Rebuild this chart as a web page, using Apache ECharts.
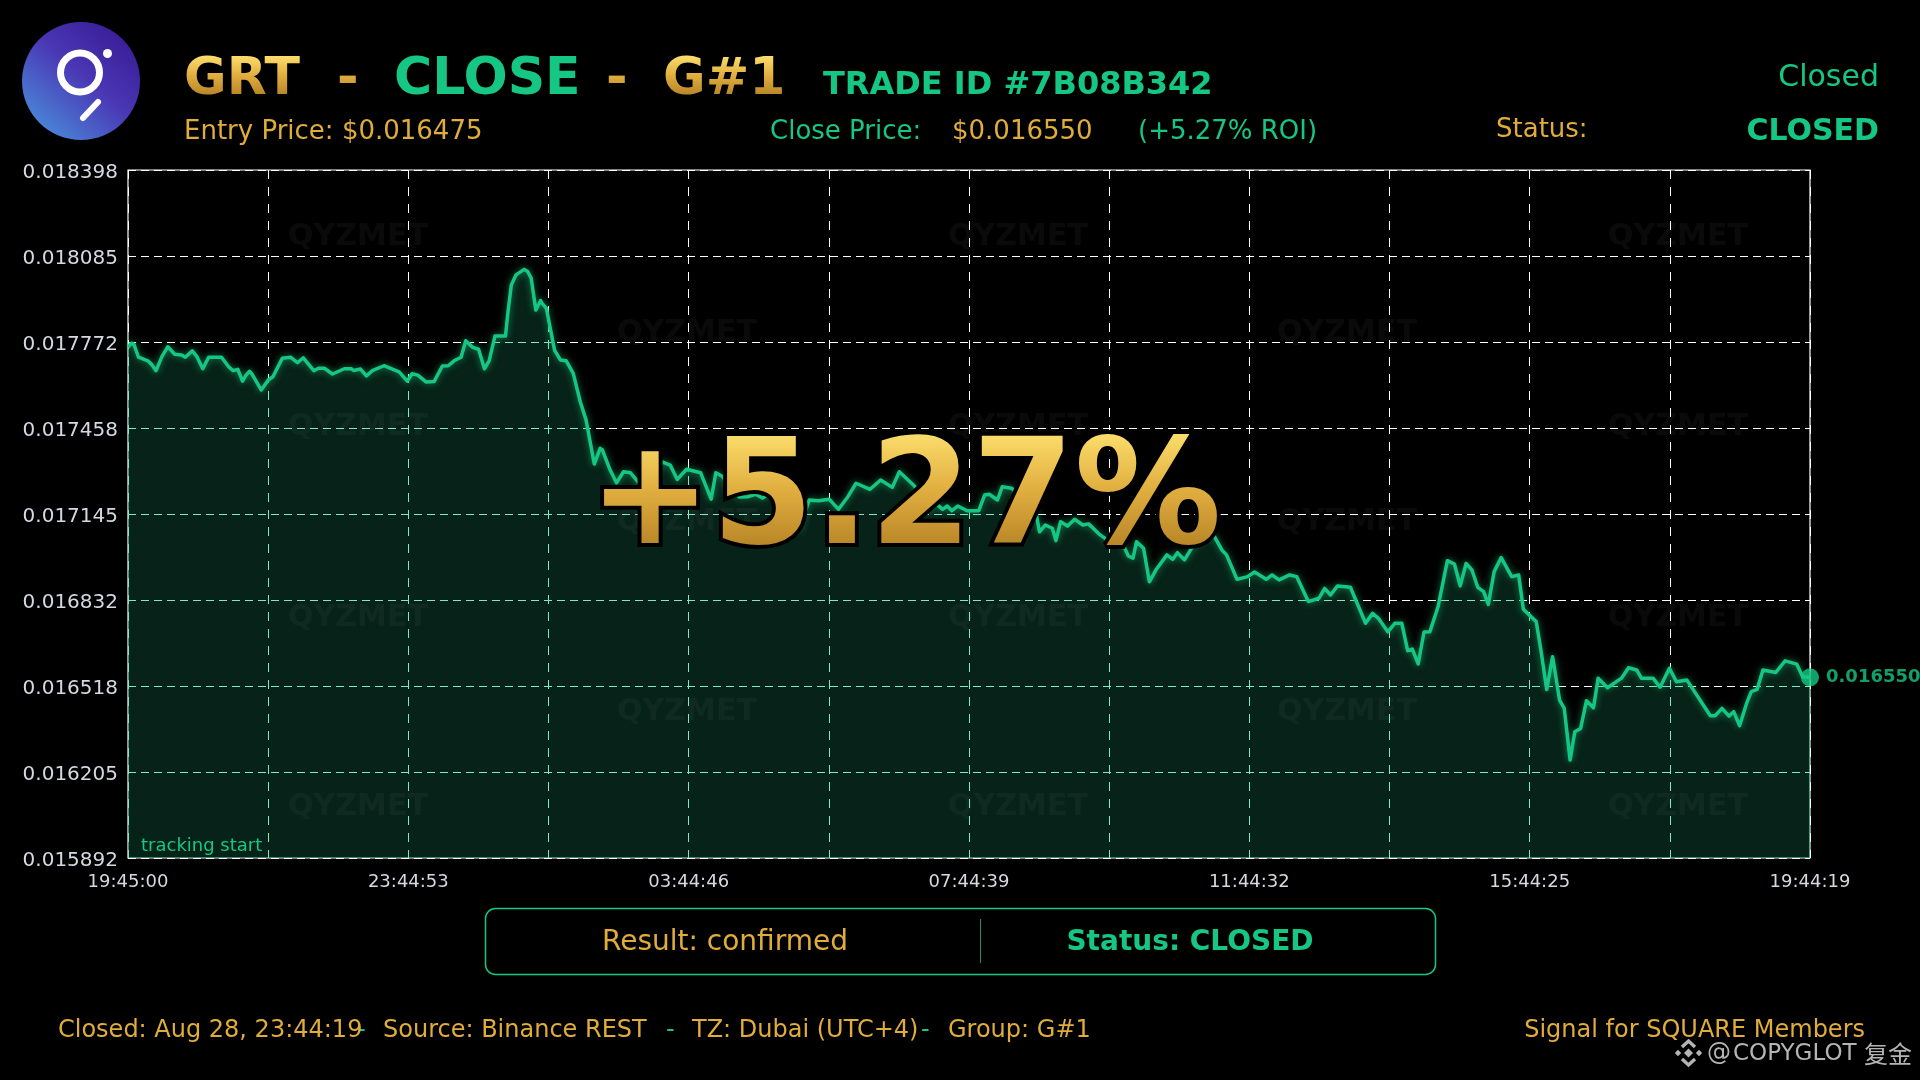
<!DOCTYPE html>
<html><head><meta charset="utf-8">
<style>html,body{margin:0;padding:0;background:#000}#c{width:1920px;height:1080px}</style>
<script src="https://cdn.jsdelivr.net/npm/echarts@6/dist/echarts.min.js"></script>
</head><body><div id="c"></div>
<script>
// minutes since tracking start
const minutes = [0,3,5,9,17,20,24,29,34,40,46,49,55,59,64,69,80,86,90,94,98,101,104,106,114,120,124,132,139,145,150,159,163,168,175,185,191,193,199,204,209,219,232,239,243,248,255,262,269,274,279,285,289,295,300,305,309,314,323,325,328,332,339,342,345,349,353,354,358,365,370,375,381,387,392,399,404,406,412,418,424,430,437,446,450,457,464,470,478,490,499,503,509,514,523,530,537,543,553,566,574,583,591,600,608,616,623,635,644,654,660,673,679,684,692,697,701,705,710,718,728,733,737,744,748,756,766,777,780,785,791,794,798,804,810,817,822,831,839,845,851,856,860,863,869,874,880,889,894,898,904,910,920,928,936,940,949,958,964,974,979,985,994,1000,1010,1019,1024,1029,1035,1046,1059,1065,1070,1078,1084,1090,1095,1099,1104,1109,1114,1121,1129,1135,1140,1145,1150,1155,1160,1164,1169,1175,1184,1190,1194,1205,1209,1214,1219,1225,1229,1234,1238,1243,1248,1254,1258,1266,1278,1284,1291,1295,1305,1311,1319,1325,1334,1354,1358,1364,1370,1374,1379,1385,1389,1394,1399,1410,1418,1428,1433,1439.28];
// close price, in millionths
const micros = [17753,17767,17764,17716,17703,17691,17667,17718,17754,17727,17724,17716,17739,17718,17674,17716,17716,17682,17667,17672,17629,17651,17665,17655,17597,17633,17645,17712,17716,17696,17714,17667,17676,17676,17655,17674,17674,17668,17673,17648,17667,17685,17663,17629,17656,17651,17626,17628,17684,17685,17703,17716,17776,17752,17745,17674,17703,17793,17793,17876,17979,18016,18036,18028,18004,17888,17922,17914,17894,17742,17706,17703,17657,17554,17487,17327,17384,17378,17311,17259,17299,17295,17259,17232,17276,17335,17323,17271,17308,17295,17199,17295,17281,17240,17207,17208,17217,17203,17232,17185,17087,17196,17193,17199,17162,17208,17257,17235,17269,17242,17299,17247,17196,17153,17181,17162,17174,17157,17174,17157,17157,17214,17217,17196,17244,17239,17203,17148,17080,17105,17093,17048,17117,17101,17126,17105,17109,17072,17047,17065,17038,16992,16984,17044,17020,16898,16944,16996,16980,17004,16978,17020,17058,17075,17014,16996,16907,16917,16934,16907,16923,16905,16923,16917,16826,16838,16874,16850,16883,16878,16747,16783,16765,16716,16747,16747,16647,16653,16599,16715,16716,16807,16975,16963,16883,16965,16941,16878,16862,16816,16935,16986,16917,16923,16798,16753,16650,16506,16625,16467,16437,16249,16352,16364,16465,16439,16547,16512,16547,16585,16577,16547,16547,16514,16583,16534,16540,16410,16410,16437,16409,16425,16374,16455,16498,16506,16577,16568,16610,16598,16552,16550];
const yTickLabels = ['0.015892','0.016205','0.016518','0.016832','0.017145','0.017458','0.017772','0.018085','0.018398'];
const xTickLabels = ['19:45:00','23:44:53','03:44:46','07:44:39','11:44:32','15:44:25','19:44:19'];
const closePrice = 0.016550;
const closeLabel = '0.016550';
const yMin = 0.015892, yMax = 0.018398;
const xStep = 119.94, xMax = 1439.28;

const GREEN = '#16c784', GOLD = '#e0ac3a', FONT = '"DejaVu Sans"', TINT = '#8ceAd1';
const prices = micros.map(v => v / 1e6);
const series = minutes.map((m, i) => [m, prices[i]]);
const yStep = (yMax - yMin) / 8;
const GOLD_LAYER = 5;

function txt(text, x, y, size, fill, opt) {
  opt = opt || {};
  return {
    type: 'text', z: opt.z || 10, zlevel: opt.zlevel || 0, silent: true,
    style: Object.assign({
      text, x, y, fill,
      font: (opt.bold ? 'bold ' : '') + size + 'px ' + (opt.family || FONT),
      textAlign: opt.align || 'left', textVerticalAlign: 'middle'
    }, opt.style || {})
  };
}
function diamond(cx, cy, r, fill) {
  return { type: 'polygon', z: 10, silent: true,
    shape: { points: [[cx, cy - r], [cx + r, cy], [cx, cy + r], [cx - r, cy]] }, style: { fill } };
}
// paints a vertical gold ramp only over what is already in the gold layer
function goldRamp(x, y, width, height) {
  return { type: 'rect', zlevel: GOLD_LAYER, z: 2, silent: true, shape: { x, y, width, height },
    style: { blend: 'source-atop', fill: new echarts.graphic.LinearGradient(0, 0, 0, 1, [
      { offset: 0, color: '#fde06e' }, { offset: 0.5, color: '#e0ae3f' }, { offset: 1, color: '#b68326' }]) } };
}
const wmRows = [[237, [358, 1018, 1678]], [333, [687, 1347]], [427, [358, 1018, 1678]], [522, [687, 1347]],
                [618, [358, 1018, 1678]], [712, [687, 1347]], [807, [358, 1018, 1678]]];
const watermarks = [];
wmRows.forEach(r => r[1].forEach(x => watermarks.push(
  txt('QYZMET', x, r[0], 30, 'rgba(255,255,255,0.04)', { bold: true, align: 'center', z: 3 }))));

const logo = [
  { type: 'circle', z: 10, silent: true, shape: { cx: 81, cy: 81, r: 59 },
    style: { fill: new echarts.graphic.LinearGradient(0.9, 0.15, 0.2, 0.95, [
      { offset: 0, color: '#3a1e98' }, { offset: 0.45, color: '#4a37b4' }, { offset: 1, color: '#4a86d8' }]) } },
  { type: 'circle', z: 11, silent: true, shape: { cx: 80, cy: 72.5, r: 19.5 }, style: { fill: 'none', stroke: '#fff', lineWidth: 7 } },
  { type: 'circle', z: 11, silent: true, shape: { cx: 107.5, cy: 53.5, r: 4.5 }, style: { fill: '#fff' } },
  { type: 'line', z: 11, silent: true, shape: { x1: 98, y1: 102, x2: 83, y2: 118 }, style: { stroke: '#fff', lineWidth: 6, lineCap: 'round' } }
];
const goldOpt = { bold: true, zlevel: GOLD_LAYER, z: 1 };
const headerTexts = [
  txt('GRT', 184, 80, 52, GOLD, goldOpt),
  txt('-', 337, 80, 52, GOLD, goldOpt),
  txt('CLOSE', 394, 80, 52, GREEN, { bold: true }),
  txt('-', 606, 80, 52, GOLD, goldOpt),
  txt('G#1', 663, 80, 52, GOLD, goldOpt),
  goldRamp(180, 55, 610, 41),
  txt('TRADE ID #7B08B342', 823, 86, 32, GREEN, { bold: true }),
  txt('Entry Price: $0.016475', 184, 132, 26, GOLD),
  txt('Close Price:', 770, 132, 26, GREEN),
  txt('$0.016550', 952, 132, 26, GOLD),
  txt('(+5.27% ROI)', 1138, 132, 26, GREEN),
  txt('Closed', 1879, 78, 30, GREEN, { align: 'right' }),
  txt('Status:', 1496, 130, 26, GOLD),
  txt('CLOSED', 1879, 132.5, 30, GREEN, { bold: true, align: 'right' })
];
const bigPct = [
  txt('+5.27%', 905, 505, 147, '#000', { bold: true, align: 'center', zlevel: GOLD_LAYER - 1, z: 1,
    style: { stroke: '#000', lineWidth: 8, lineJoin: 'round' } }),
  txt('+5.27%', 905, 505, 147, GOLD, { bold: true, align: 'center', zlevel: GOLD_LAYER, z: 1 }),
  goldRamp(590, 430, 640, 120)
];
const panel = [
  { type: 'rect', z: 10, silent: true, shape: { x: 485.5, y: 908.5, width: 950, height: 66, r: 10 },
    style: { fill: 'none', stroke: GREEN, lineWidth: 1.5 } },
  { type: 'line', z: 10, silent: true, shape: { x1: 980.5, y1: 919, x2: 980.5, y2: 963 }, style: { stroke: '#2f8a68', lineWidth: 1 } },
  txt('Result: confirmed', 725, 943, 28, GOLD, { align: 'center' }),
  txt('Status: CLOSED', 1190, 943, 28, GREEN, { bold: true, align: 'center' })
];
const footer = [
  txt('-', 357, 1031, 24, GREEN),
  txt('Closed: Aug 28, 23:44:19', 58, 1031, 24, GOLD),
  txt('Source: Binance REST', 383, 1031, 24, GOLD),
  txt('-', 666, 1031, 24, GREEN),
  txt('TZ: Dubai (UTC+4)', 692, 1031, 24, GOLD),
  txt('-', 921, 1031, 24, GREEN),
  txt('Group: G#1', 948, 1031, 24, GOLD),
  txt('Signal for SQUARE Members', 1865, 1031, 24, GOLD, { align: 'right' }),
  txt('@', 1707, 1054, 24, '#b4b4b4'),
  txt('COPYGLOT', 1733, 1054, 23, '#b4b4b4'),
  txt('复金', 1912, 1054, 24, '#b4b4b4', { align: 'right', family: '"Noto Sans CJK SC"' }),
  diamond(1688.5, 1053, 4.5, '#b4b4b4'), diamond(1678, 1053, 3.2, '#b4b4b4'), diamond(1699, 1053, 3.2, '#b4b4b4'),
  { type: 'polyline', z: 10, silent: true, shape: { points: [[1682, 1047], [1688.5, 1041], [1695, 1047]] }, style: { fill: 'none', stroke: '#b4b4b4', lineWidth: 3.4 } },
  { type: 'polyline', z: 10, silent: true, shape: { points: [[1682, 1059], [1688.5, 1065], [1695, 1059]] }, style: { fill: 'none', stroke: '#b4b4b4', lineWidth: 3.4 } }
];
const backdrop = { type: 'rect', z: -100, silent: true, shape: { x: 0, y: 0, width: 1920, height: 1080 }, style: { fill: '#000' } };

const chart = echarts.init(document.getElementById('c'), null, { renderer: 'canvas' });
chart.setOption({
  animation: false,
  backgroundColor: '#000',
  grid: { left: 128, top: 170, width: 1682, height: 688, show: true, borderColor: '#fff', borderWidth: 1.2, backgroundColor: 'transparent' },
  xAxis: {
    type: 'value', min: 0, max: xMax, interval: xStep,
    axisLine: { show: false }, axisTick: { show: false },
    axisLabel: { color: '#d4d8e0', fontFamily: FONT, fontSize: 18, margin: 15.5,
      formatter: v => { const i = Math.round(v / xStep); return i % 2 === 0 ? xTickLabels[i / 2] : ''; } },
    splitLine: { show: true, lineStyle: { color: '#fff', width: 1, type: [9, 8] } }
  },
  yAxis: {
    type: 'value', min: yMin, max: yMax, interval: yStep,
    axisLine: { show: false }, axisTick: { show: false },
    axisLabel: { color: '#d4d8e0', fontFamily: FONT, fontSize: 20, margin: 10, verticalAlign: 'top', lineHeight: 5,
      formatter: v => yTickLabels[Math.round((v - yMin) / yStep)] },
    splitLine: { show: true, lineStyle: { color: '#fff', width: 1, type: [8, 5] } }
  },
  graphic: { elements: [backdrop, ...logo, ...headerTexts, ...watermarks, ...bigPct, ...panel, ...footer,
    txt('tracking start', 141, 846, 18, GREEN, { z: 5 })] },
  series: [
    { // tints the white gridlines below the price curve
      type: 'custom', silent: true, z: 1, clip: false,
      data: [[0, yMin]],
      encode: { x: 0, y: 1 },
      renderItem: (params, api) => {
        const pts = [api.coord([minutes[0], yMin])];
        series.forEach(p => pts.push(api.coord(p)));
        pts.push(api.coord([xMax, yMin]));
        return { type: 'polygon', shape: { points: pts }, style: { fill: TINT } };
      }
    },
    {
      type: 'line', data: series, z: 2, showSymbol: false, smooth: false, silent: true,
      lineStyle: { color: GREEN, width: 3.5, shadowBlur: 7, shadowColor: 'rgba(22,199,132,0.65)', join: 'round' },
      areaStyle: { color: 'rgba(50,230,160,0.15)', opacity: 1, origin: 'start' }
    },
    {
      type: 'scatter', z: 4, silent: true, clip: false, symbolSize: 18,
      data: [[xMax, closePrice]],
      itemStyle: { color: GREEN },
      label: { show: true, position: 'right', distance: 7, formatter: closeLabel, color: GREEN,
        fontFamily: FONT, fontWeight: 'bold', fontSize: 18 }
    }
  ]
});
// The custom series' option style drops the blend mode, so set it on the drawn polygon.
const zr = chart.getZr();
zr.storage.getDisplayList(true).forEach(el => {
  if (el.style && el.style.fill === TINT) { el.style.blend = 'multiply'; el.markRedraw(); }
});
zr.refreshImmediately();
</script></body></html>
